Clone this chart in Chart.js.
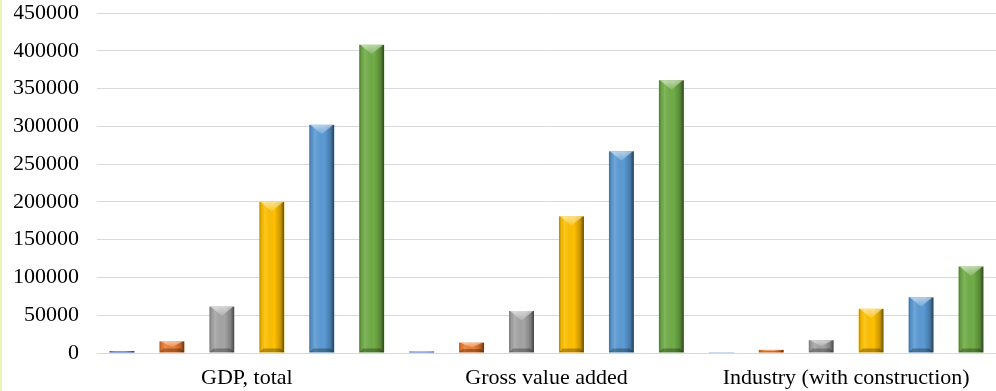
<!DOCTYPE html>
<html>
<head>
<meta charset="utf-8">
<script src="https://cdn.jsdelivr.net/npm/chart.js@4/dist/chart.umd.min.js"></script>
<style>
  html,body{margin:0;padding:0;background:#fff;}
  #wrap{position:relative;width:996px;height:391px;}
  #edge{position:absolute;left:0;top:0;width:2px;height:391px;background:#EEF4B4;}
</style>
</head>
<body>
<div id="wrap"><canvas id="c" width="996" height="391"></canvas><div id="edge"></div></div>
<script>
// ---- data ----
const categories = ["GDP, total", "Gross value added", "Industry (with construction)"];
const series1 = [2500, 2000, 300];
const series2 = [15500, 13800, 4200];
const series3 = [61500, 55500, 17000];
const series4 = [200000, 181000, 58500];
const series5 = [302000, 267000, 73800];
const series6 = [408000, 361000, 114500];
const seriesNames = ["Series 1", "Series 2", "Series 3", "Series 4", "Series 5", "Series 6"];
const seriesColors = ["#4472C4", "#ED7D31", "#A5A5A5", "#FFC000", "#5B9BD5", "#70AD47"];
const yTickMax = 450000;
const yTickStep = 50000;

const allSeries = [series1, series2, series3, series4, series5, series6];

const bevel = {
  id: 'bevel',
  afterDatasetsDraw(chart) {
    const ctx = chart.ctx;
    chart.data.datasets.forEach((ds, i) => {
      const meta = chart.getDatasetMeta(i);
      meta.data.forEach(bar => {
        const p = bar.getProps(['x', 'y', 'base', 'width'], true);
        const l = p.x - p.width / 2, r = p.x + p.width / 2;
        const t = Math.min(p.y, p.base), b = Math.max(p.y, p.base);
        const h = b - t;
        if (h < 0.5) return;
        ctx.save();
        ctx.beginPath();
        ctx.rect(l, t, r - l, h);
        ctx.clip();
        const g = ctx.createLinearGradient(l, 0, r, 0);
        g.addColorStop(0, 'rgba(0,0,0,0.30)');
        g.addColorStop(0.1, 'rgba(0,0,0,0.05)');
        g.addColorStop(0.22, 'rgba(255,255,255,0.12)');
        g.addColorStop(0.6, 'rgba(0,0,0,0)');
        g.addColorStop(0.85, 'rgba(0,0,0,0.22)');
        g.addColorStop(1, 'rgba(0,0,0,0.6)');
        ctx.fillStyle = g;
        ctx.fillRect(l, t, r - l, h);
        const d = Math.min(p.width * 0.38, h * 0.5);
        const gv = ctx.createLinearGradient(0, t, 0, t + d);
        gv.addColorStop(0, 'rgba(255,255,255,0.55)');
        gv.addColorStop(1, 'rgba(255,255,255,0.15)');
        ctx.fillStyle = gv;
        ctx.beginPath();
        ctx.moveTo(l + 1, t);
        ctx.lineTo(r - 1, t);
        ctx.lineTo(p.x, t + d);
        ctx.closePath();
        ctx.fill();
        const bd = Math.min(4, h * 0.35);
        ctx.fillStyle = 'rgba(0,0,0,0.28)';
        ctx.beginPath();
        ctx.moveTo(l, b);
        ctx.lineTo(r, b);
        ctx.lineTo(r - bd, b - bd);
        ctx.lineTo(l + bd, b - bd);
        ctx.closePath();
        ctx.fill();
        ctx.restore();
      });
    });
  }
};

const font = { family: "'Liberation Serif', 'Times New Roman', serif", size: 22 };

new Chart(document.getElementById('c'), {
  type: 'bar',
  data: {
    labels: categories,
    datasets: allSeries.map((s, i) => ({
      label: seriesNames[i],
      data: s,
      backgroundColor: seriesColors[i],
      borderWidth: 0,
      barPercentage: 0.5,
      categoryPercentage: 1.0
    }))
  },
  options: {
    responsive: false,
    animation: false,
    devicePixelRatio: 1,
    layout: { padding: { left: 14, right: 0, top: 13, bottom: 0 } },
    plugins: { legend: { display: false }, tooltip: { enabled: false } },
    scales: {
      x: {
        grid: { display: false, drawTicks: false },
        border: { display: true, color: '#D9D9D9', width: 1 },
        ticks: { color: '#000', font: font, padding: 12, maxRotation: 0, autoSkip: false },
        afterFit: s => { s.height = 38; s.paddingLeft = 0; s.paddingRight = 0; }
      },
      y: {
        min: 0, max: yTickMax,
        grid: { color: '#D9D9D9', drawTicks: false, lineWidth: 1 },
        border: { display: false },
        ticks: { stepSize: yTickStep, color: '#000', font: font, padding: 18,
                 callback: v => String(v) },
        afterFit: s => { s.width = 83; s.paddingTop = 0; s.paddingBottom = 0; }
      }
    }
  },
  plugins: [bevel]
});
</script>
</body>
</html>
